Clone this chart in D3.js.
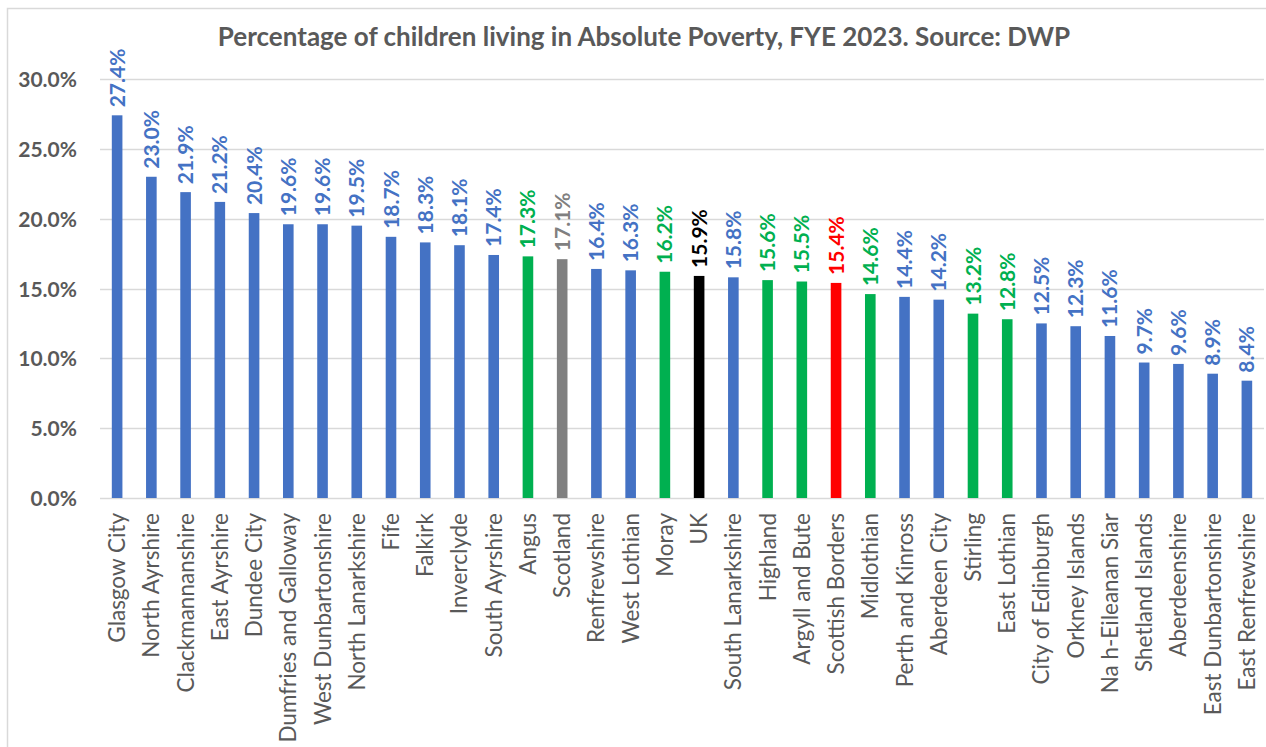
<!DOCTYPE html>
<html>
<head>
<meta charset="utf-8">
<script src="https://cdn.jsdelivr.net/npm/d3@7"></script>
<style>
  html, body { margin: 0; padding: 0; background: #ffffff; }
  svg { display: block; font-family: Lato, "Open Sans", sans-serif; }
</style>
</head>
<body>
<svg id="chart" width="1266" height="747"></svg>
<script>
// Child absolute poverty rates by council area, FYE 2023 (DWP)
const areas = [
  "Glasgow City", "North Ayrshire", "Clackmannanshire", "East Ayrshire", "Dundee City",
  "Dumfries and Galloway", "West Dunbartonshire", "North Lanarkshire", "Fife", "Falkirk",
  "Inverclyde", "South Ayrshire", "Angus", "Scotland", "Renfrewshire", "West Lothian",
  "Moray", "UK", "South Lanarkshire", "Highland", "Argyll and Bute", "Scottish Borders",
  "Midlothian", "Perth and Kinross", "Aberdeen City", "Stirling", "East Lothian",
  "City of Edinburgh", "Orkney Islands", "Na h-Eileanan Siar", "Shetland Islands",
  "Aberdeenshire", "East Dunbartonshire", "East Renfrewshire"
];
const rates = [
  27.4, 23.0, 21.9, 21.2, 20.4,
  19.6, 19.6, 19.5, 18.7, 18.3,
  18.1, 17.4, 17.3, 17.1, 16.4, 16.3,
  16.2, 15.9, 15.8, 15.6, 15.5, 15.4,
  14.6, 14.4, 14.2, 13.2, 12.8,
  12.5, 12.3, 11.6, 9.7,
  9.6, 8.9, 8.4
];
const groups = [
  "other", "other", "other", "other", "other",
  "other", "other", "other", "other", "other",
  "other", "other", "highlight", "scotland", "other", "other",
  "highlight", "uk", "other", "highlight", "highlight", "borders",
  "highlight", "other", "other", "highlight", "highlight",
  "other", "other", "other", "other",
  "other", "other", "other"
];
const yTicks = [0, 5, 10, 15, 20, 25, 30];

const groupColor = {
  other: "#4472C4",
  highlight: "#00B050",
  scotland: "#808080",
  uk: "#000000",
  borders: "#FF0000"
};

const rows = areas.map((name, i) => ({ name, value: rates[i], group: groups[i] }));

const svg = d3.select("#chart");
const textGray = "#595959";

// Outer chart frame
svg.append("rect")
  .attr("x", 7.5).attr("y", 8.5)
  .attr("width", 1270).attr("height", 745)
  .attr("fill", "#ffffff")
  .attr("stroke", "#d9d9d9")
  .attr("stroke-width", 1.5);

const plot = { left: 100, right: 1264, top: 79, bottom: 498 };

const x = d3.scaleBand()
  .domain(areas)
  .range([plot.left, plot.right])
  .paddingInner(0.69)
  .paddingOuter(0.345);

const y = d3.scaleLinear()
  .domain([0, 30])
  .range([plot.bottom, plot.top]);

// Horizontal gridlines
svg.append("g")
  .selectAll("line")
  .data(yTicks)
  .join("line")
  .attr("x1", plot.left).attr("x2", plot.right)
  .attr("y1", d => Math.round(y(d)) + 0.5)
  .attr("y2", d => Math.round(y(d)) + 0.5)
  .attr("stroke", "#d9d9d9")
  .attr("stroke-width", 1.3);

// Y axis labels
const yAxis = d3.axisLeft(y)
  .tickValues(yTicks)
  .tickSize(0)
  .tickPadding(0)
  .tickFormat(d => d.toFixed(1) + "%");

svg.append("g")
  .attr("transform", "translate(77,0)")
  .call(yAxis)
  .call(g => g.select(".domain").remove())
  .call(g => g.selectAll("text")
    .attr("fill", textGray)
    .attr("font-family", "Lato, sans-serif")
    .attr("font-weight", "bold")
    .attr("font-size", 21)
    .attr("dy", "0.36em"));

// Bars
svg.append("g")
  .selectAll("rect")
  .data(rows)
  .join("rect")
  .attr("x", d => x(d.name))
  .attr("width", x.bandwidth())
  .attr("y", d => y(d.value))
  .attr("height", d => y(0) - y(d.value))
  .attr("fill", d => groupColor[d.group]);

// Value labels above bars, rotated
svg.append("g")
  .selectAll("text")
  .data(rows)
  .join("text")
  .attr("transform", d => `translate(${x(d.name) + x.bandwidth() / 2 + 7.5},${y(d.value) - 8}) rotate(-90)`)
  .attr("text-anchor", "start")
  .attr("font-weight", "bold")
  .attr("font-size", 21)
  .attr("fill", d => groupColor[d.group])
  .text(d => d.value.toFixed(1) + "%");

// Category labels under the axis, rotated
const xAxis = d3.axisBottom(x).tickSize(0).tickPadding(0);
svg.append("g")
  .attr("transform", `translate(0,${plot.bottom})`)
  .call(xAxis)
  .call(g => g.select(".domain").remove())
  .call(g => g.selectAll("text")
    .attr("fill", textGray)
    .attr("font-family", "Lato, sans-serif")
    .attr("font-size", 22.5)
    .attr("text-anchor", "end")
    .attr("dy", null)
    .attr("y", null)
    .attr("transform", "translate(8,15) rotate(-90)"));

// Title
svg.append("text")
  .attr("x", 644)
  .attr("y", 46)
  .attr("text-anchor", "middle")
  .attr("font-weight", "bold")
  .attr("font-size", 26)
  .attr("fill", textGray)
  .text("Percentage of children living in Absolute Poverty, FYE 2023. Source: DWP");
</script>
</body>
</html>
